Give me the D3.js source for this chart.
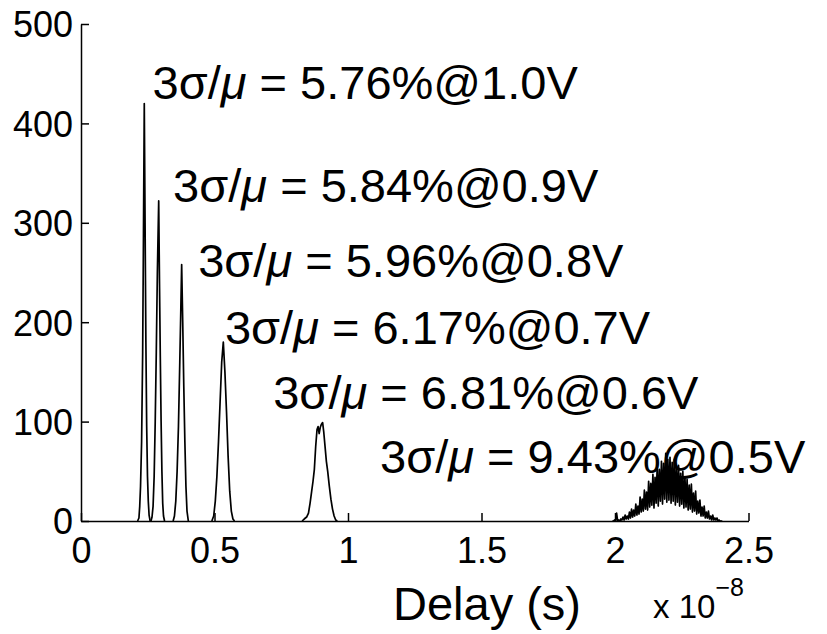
<!DOCTYPE html>
<html>
<head>
<meta charset="utf-8">
<script src="https://cdn.jsdelivr.net/npm/d3@7"></script>
<style>
body{margin:0;background:#fff}
text{font-family:"Liberation Sans",Arial,sans-serif;fill:#000}
</style>
</head>
<body>
<svg id="svg1" width="827" height="634"></svg>
<script>
var xTicks=[0,0.5,1,1.5,2,2.5]
var xTickLabels=["0","0.5","1","1.5","2","2.5"]
var yTicks=[0,100,200,300,400,500]

// delay in units of 1e-8 s, counts per bin
var delay10=[0.212,0.217,0.220,0.223,0.227,0.231,0.234,0.237,0.240,0.243,0.246,0.249,0.252,0.255,0.259]
var count10=[0,3,15,35,80,170,290,420,300,180,95,45,20,6,0]

var delay09=[0.262,0.266,0.270,0.274,0.278,0.282,0.286,0.291,0.294,0.297,0.300,0.303,0.306,0.309,0.313]
var count09=[0,4,15,45,100,170,250,322,240,165,100,50,18,5,0]

var delay08=[0.345,0.350,0.355,0.360,0.365,0.370,0.374,0.377,0.381,0.385,0.389,0.393,0.397,0.402]
var count08=[0,5,20,50,95,160,215,258,200,135,80,35,10,0]

var delay07=[0.490,0.497,0.503,0.509,0.515,0.521,0.527,0.533,0.539,0.545,0.551,0.557,0.563,0.569,0.575]
var count07=[0,5,20,45,80,120,160,180,150,110,65,30,10,2,0]

var delay06=[0.828,0.836,0.845,0.852,0.858,0.864,0.869,0.874,0.879,0.884,0.888,0.892,0.896,0.900,0.905,0.909,0.914,0.919,0.924,0.930,0.936,0.942,0.948,0.954,0.960]
var count06=[0,2,4,8,18,30,40,52,75,92,95,88,94,97,99,90,75,60,50,35,22,12,5,1,0]

var delay05=[1.990,1.994,1.998,2.002,2.006,2.010,2.014,2.018,2.022,2.026,
2.030,2.034,2.038,2.042,2.046,2.050,2.054,2.058,2.062,2.066,
2.070,2.074,2.078,2.082,2.086,2.090,2.094,2.098,2.102,2.106,
2.110,2.114,2.118,2.122,2.126,2.130,2.134,2.138,2.142,2.146,
2.150,2.154,2.158,2.162,2.166,2.170,2.174,2.178,2.182,2.186,
2.190,2.194,2.198,2.202,2.206,2.210,2.214,2.218,2.222,2.226,
2.230,2.234,2.238,2.242,2.246,2.250,2.254,2.258,2.262,2.266,
2.270,2.274,2.278,2.282,2.286,2.290,2.294,2.298,2.302,2.306,
2.310,2.314,2.318,2.322,2.326,2.330,2.334,2.338,2.342,2.346,
2.350,2.354,2.358,2.362,2.366,2.370,2.374,2.378,2.382,2.386,
2.390,2.394,2.398,2.402]
var count05=[0,0,1,0,8,0,1,0,2,1,
4,1,6,2,5,2,9,3,12,4,
11,5,17,6,15,7,24,9,22,10,
31,12,29,11,40,14,38,16,47,13,
44,18,55,15,52,20,60,17,58,22,
68,19,62,21,64,18,59,20,62,16,
54,19,56,15,48,17,50,13,44,14,
42,11,36,12,37,9,28,10,30,7,
20,8,21,5,14,5,15,3,9,3,
10,2,5,1,6,1,3,1,3,0,
1,0,0,0]

var sigmaPct=["5.76","5.84","5.96","6.17","6.81","9.43"]
var voltages=["1.0","0.9","0.8","0.7","0.6","0.5"]
// label anchor in data units (delay, count)
var labelX=[0.268,0.345,0.439,0.539,0.720,1.120]
var labelY=[425,321,245,178,113,48]

var series=[
    {d:delay10,c:count10},{d:delay09,c:count09},{d:delay08,c:count08},
    {d:delay07,c:count07},{d:delay06,c:count06},{d:delay05,c:count05}
]

var svg=d3.select("#svg1")
svg.append("rect").attr("width",827).attr("height",634).attr("fill","#fff")

var mLeft=81, mTop=24, mRight=748.5, mBottom=521

var x=d3.scaleLinear().domain([0,2.5]).range([mLeft,mRight])
var y=d3.scaleLinear().domain([0,500]).range([mBottom,mTop])

var line=d3.line()
    .x(function(p){return x(p[0])})
    .y(function(p){return y(p[1])})

svg.selectAll("path.hist")
    .data(series)
    .enter()
    .append("path")
    .attr("class","hist")
    .attr("d",function(s){return line(s.d.map(function(v,i){return [v,s.c[i]]}))})
    .attr("fill","none")
    .attr("stroke","black")
    .attr("stroke-width",1.7)
    .attr("stroke-linejoin","round")

var gx=svg.append("g")
    .attr("transform","translate(0,"+mBottom+")")
    .call(d3.axisBottom(x).tickValues(xTicks)
        .tickFormat(function(d,i){return xTickLabels[i]})
        .tickSizeInner(-8).tickSizeOuter(0).tickPadding(16))
var gy=svg.append("g")
    .attr("transform","translate("+mLeft+",0)")
    .call(d3.axisLeft(y).tickValues(yTicks)
        .tickSizeInner(-8).tickSizeOuter(0).tickPadding(8))

svg.selectAll(".domain").attr("stroke","black").attr("stroke-width",1.5)
svg.selectAll(".tick line").attr("stroke","black").attr("stroke-width",1.5)
svg.selectAll(".tick text")
    .attr("font-family","Liberation Sans, Arial, sans-serif")
    .attr("font-size",36).attr("fill","black")
gy.selectAll(".tick text").attr("dy","0.36em")

var lab=svg.selectAll("text.lab")
    .data(sigmaPct)
    .enter()
    .append("text")
    .attr("class","lab")
    .attr("x",function(d,i){return x(labelX[i])})
    .attr("y",function(d,i){return y(labelY[i])})
    .attr("font-size",47)
lab.append("tspan").text("3σ/")
lab.append("tspan").attr("font-style","italic").text("μ")
lab.append("tspan").text(function(d,i){return " = "+d+"%@"+voltages[i]+"V"})

svg.append("text")
    .attr("x",393).attr("y",620)
    .attr("font-size",47)
    .text("Delay (s)")

var ex=svg.append("text")
    .attr("x",653).attr("y",618)
    .attr("font-size",33)
ex.append("tspan").text("x 10")
ex.append("tspan").attr("font-size",25).attr("dy",-22).text("−8")
</script>
</body>
</html>
